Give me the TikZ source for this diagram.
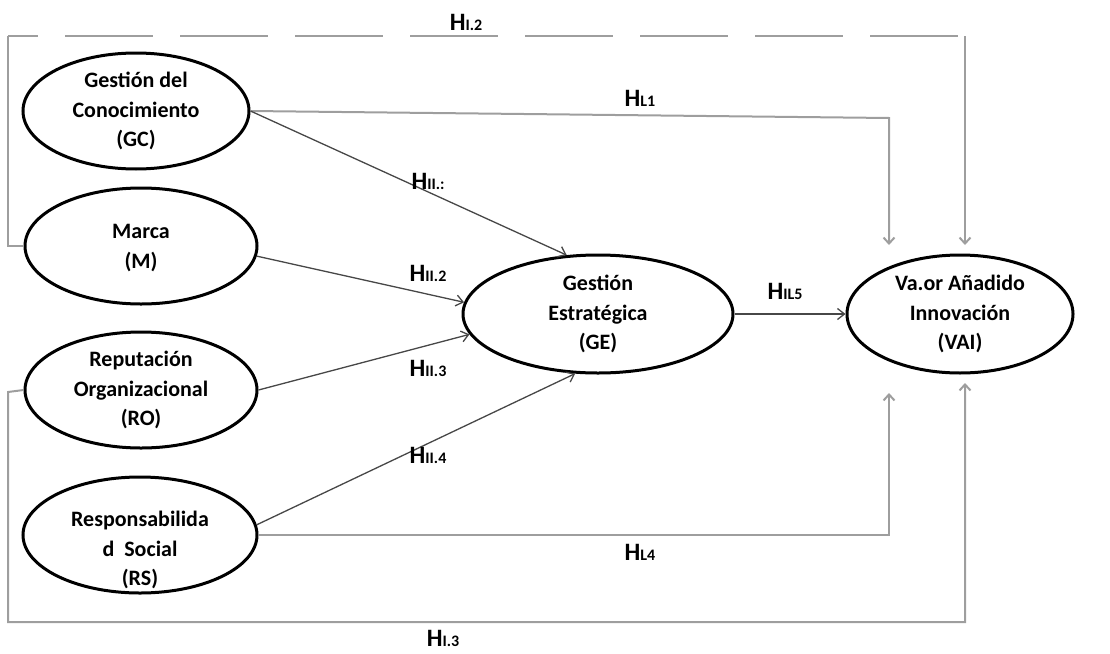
\documentclass[tikz,border=0pt]{standalone}
\usepackage{fontspec}
\setmainfont{Carlito}
\usetikzlibrary{shapes.geometric,arrows.meta}

% hypothesis label: large H followed by a smaller index on the baseline
\newcommand\hypo[1]{H{\fontsize{16}{16}\selectfont #1}}

\tikzset{
  construct/.style={ellipse, draw=black, line width=3pt, inner sep=0pt,
    minimum width=#1, minimum height=116pt},
  construct/.default=230pt,
  ctext/.style={align=center, font=\fontsize{22}{29.5}\selectfont\bfseries, inner sep=0pt},
  hlabel/.style={font=\fontsize{25}{25}\selectfont\bfseries, inner sep=0pt},
  direct/.style={draw=black!72, line width=1.3pt, -{Straight Barb[length=7pt,width=11pt,line width=1.3pt]}},
  indirect/.style={draw=black!38, line width=2pt},
  indarrow/.style={indirect, -{Straight Barb[length=6pt,width=11pt,line width=2pt]}},
}

\begin{document}
\begin{tikzpicture}[x=1pt,y=-1pt]
\useasboundingbox (0,0) rectangle (1110,653);

% latent constructs
\node[construct=226pt] (GC) at (136,111) {};
\node[ctext] (GCt) at (GC.center) {Gestión del\\Conocimiento\\(GC)};
\node[construct=232pt] (M) at (141,246) {};
\node[ctext] (Mt) at (141,248) {Marca\\(M)};
\node[construct=232pt] (RO) at (141,390) {};
\node[ctext] (ROt) at (RO.center) {Reputación\\Organizacional\\(RO)};
\node[construct=234pt] (RS) at (140,535) {};
\node[ctext] (RSt) at (140,550) {Responsabilida\\d\ \ Social\\(RS)};
\node[construct=270pt, minimum height=118pt] (GE) at (598,314) {};
\node[ctext] (GEt) at (GE.center) {Gestión\\Estratégica\\(GE)};
\node[construct=226pt, minimum height=118pt] (VAI) at (960,314) {};
\node[ctext] (VAIt) at (VAI.center) {Va.or Añadido\\Innovación\\(VAI)};

% routing points of the direct-effect paths to VAI
\coordinate (l2a) at (8,246);
\coordinate (l2b) at (8,36);
\coordinate (l2c) at (965,36);
\coordinate (l2end) at (965,245);
\coordinate (l1c) at (889,118);
\coordinate (l1end) at (889,245);
\coordinate (l4c) at (889,535);
\coordinate (l4end) at (889,393);
\coordinate (l3a) at (8,392);
\coordinate (l3b) at (8,622);
\coordinate (l3c) at (965,622);
\coordinate (l3end) at (965,383);

% H I.2 (dashed top route)
\draw[indirect] (M.west) -- (l2a) -- (l2b);
\draw[indirect, dash pattern=on 88pt off 27pt, dash phase=58pt] (l2b) -- (l2c);
\draw[indarrow] (l2c) -- (l2end);
% H I.1
\draw[indarrow] (GC.east) -- (l1c) -- (l1end);
% H I.4
\draw[indarrow] (RS.east) -- (l4c) -- (l4end);
% H I.3
\draw[indarrow] (RO.west) -- (l3a) -- (l3b) -- (l3c) -- (l3end);

% paths into Gestión Estratégica
\draw[direct] (GC.east) -- (GE.118);
\draw[direct] (M.-5) -- (GE.175);
\draw[direct] (RO.east) -- (GE.189);
\draw[direct] (RS.5) -- (GE.249);
\draw[direct] (GE.east) -- (VAI.west);

% hypothesis labels
\node[hlabel] (h12) at (466,22) {\hypo{I.2}};
\node[hlabel] (h11) at (640,98) {\hypo{L1}};
\node[hlabel] (h21) at (428,181) {\hypo{II.:}};
\node[hlabel] (h22) at (428,273) {\hypo{II.2}};
\node[hlabel] (h23) at (428,368) {\hypo{II.3}};
\node[hlabel] (h24) at (428,455) {\hypo{II.4}};
\node[hlabel] (h25) at (785,291) {\hypo{IL5}};
\node[hlabel] (h14) at (640,552) {\hypo{L4}};
\node[hlabel] (h13) at (443,638) {\hypo{I.3}};
\end{tikzpicture}
\end{document}
